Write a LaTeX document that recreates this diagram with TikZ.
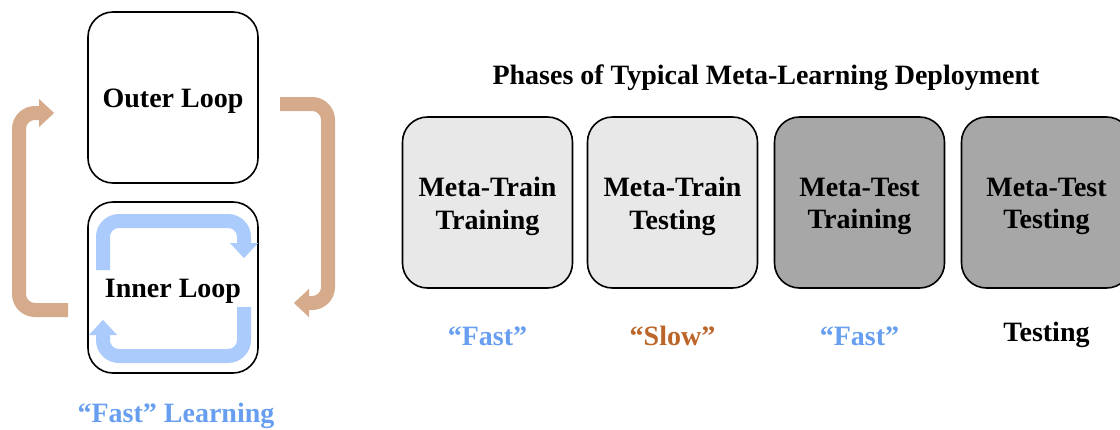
\documentclass[tikz,border=0pt]{standalone}
\usepackage{fontspec}
\setmainfont{Liberation Serif}
\usepackage{tikz}
\usetikzlibrary{arrows.meta, positioning}
\usepackage{xcolor}
\definecolor{slowtan}{HTML}{D5AB8C}
\definecolor{fastsky}{HTML}{AACBFB}
\definecolor{fasttext}{HTML}{679EF0}
\definecolor{slowtext}{HTML}{BC6529}
\definecolor{lightbox}{HTML}{E8E8E8}
\definecolor{darkbox}{HTML}{A7A7A7}

\begin{document}
\begin{tikzpicture}[x=1pt, y=-1pt,
		every node/.style = {font=\bfseries\fontsize{28}{32.5}\selectfont, align=center},
		loopbox/.style = {draw, line width=1.6pt, rounded corners=25pt, minimum width=170pt, minimum height=171pt},
		phasebox/.style = {loopbox},
		boxtext/.style = {yshift=-4pt},
		bigarrow/.style = {line width=14pt, rounded corners=16pt, -{Triangle[width=28pt, length=15pt, line width=0.1pt]}},
		lbl/.style = {anchor=base}]
		\useasboundingbox (0,0) rectangle (1120,429);
		\clip (0,0) rectangle (1120,429);
		% loops
		\node[loopbox] (outer) at (173,97.5) {};
		\node[loopbox] (inner) at (173,287.5) {};
		\node[boxtext] (outertxt) at (outer.center) {Outer Loop};
		\draw[bigarrow, fastsky] (103,270) -- (103,221) -- (244,221) -- (244,258);
		\draw[bigarrow, fastsky] (244,307) -- (244,356) -- (103,356) -- (103,320);
		\node[boxtext] (innertxt) at (inner.center) {Inner Loop};
		\draw[bigarrow, slowtan] (68,310) -- (19,310) -- (19,113) -- (54,113);
		\draw[bigarrow, slowtan] (280,104) -- (328,104) -- (328,303) -- (294,303);
		\node[lbl, text=fasttext] (fastlearn) at (176,422) {“Fast” Learning};
		% phases
		\node[lbl] (title) at (766,84) {Phases of Typical Meta-Learning Deployment};
		\node[phasebox, fill=lightbox] (mtrtr) at (487.5,202.5) {};
		\node[phasebox, fill=lightbox] (mtrte) at (672.5,202.5) {};
		\node[phasebox, fill=darkbox] (mtetr) at (859.5,202.5) {};
		\node[phasebox, fill=darkbox] (mtete) at (1046.5,202.5) {};
		\node[boxtext] at (mtrtr) {Meta-Train\\Training};
		\node[boxtext] at (mtrte) {Meta-Train\\Testing};
		\node[boxtext] at (mtetr) {Meta-Test\\Training};
		\node[boxtext] at (mtete) {Meta-Test\\Testing};
		\node[lbl, text=fasttext] (speed1) at (mtrtr |- 0,345) {“Fast”};
		\node[lbl, text=slowtext] (speed2) at (mtrte |- 0,345) {“Slow”};
		\node[lbl, text=fasttext] (speed3) at (mtetr |- 0,345) {“Fast”};
		\node[lbl] (speed4) at (mtete |- 0,341) {Testing};
	\end{tikzpicture}
\end{document}
